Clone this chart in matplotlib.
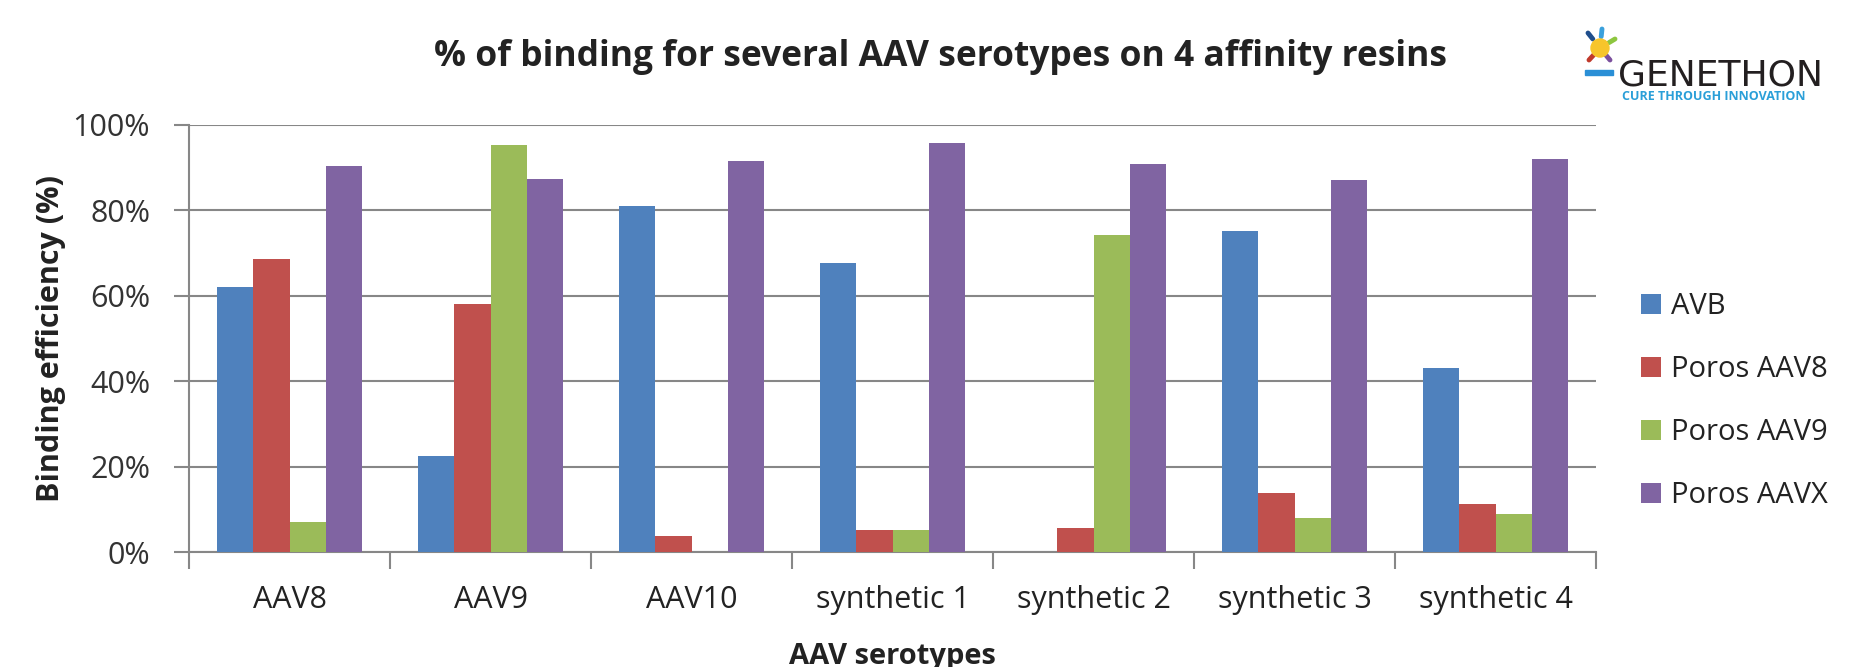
import numpy as np
import matplotlib.pyplot as plt
from matplotlib.patches import Circle, Rectangle

serotypes = ["AAV8", "AAV9", "AAV10", "synthetic 1", "synthetic 2", "synthetic 3", "synthetic 4"]
resins = ["AVB", "Poros AAV8", "Poros AAV9", "Poros AAVX"]
avb = [62.0, 22.5, 81.0, 67.6, 0.0, 75.1, 43.0]
poros_aav8 = [68.7, 58.1, 3.8, 5.1, 5.6, 13.8, 11.2]
poros_aav9 = [7.0, 95.3, 0.0, 5.1, 74.3, 8.0, 8.9]
poros_aavx = [90.4, 87.4, 91.5, 95.9, 90.9, 87.1, 92.1]
colors = ["#4F81BD", "#C0504D", "#9BBB59", "#8064A2"]

plt.rcParams['font.family'] = ['Open Sans', 'DejaVu Sans']

W, H = 1851, 667
fig = plt.figure(figsize=(W / 100, H / 100), dpi=100)
fig.patch.set_facecolor("white")

# axes box in pixels: x 189..1596, y 125..552
ax = fig.add_axes([189 / W, (H - 552) / H, (1596 - 189) / W, (552 - 125) / H])

x = np.arange(len(serotypes))
bw = 0.181
series = [avb, poros_aav8, poros_aav9, poros_aavx]
for i, (vals, c, name) in enumerate(zip(series, colors, resins)):
    ax.bar(x + (i - 1.5) * bw, vals, width=bw, color=c, label=name, zorder=3)

ax.set_xlim(-0.5, len(serotypes) - 0.5)
ax.set_ylim(0, 100)
ax.set_yticks(range(0, 101, 20))
ax.set_yticklabels([f"{v}%" for v in range(0, 101, 20)], fontsize=22, color="#333333")
ax.set_xticks(x)
ax.set_xticklabels(serotypes, fontsize=22, color="#222222")
ax.set_xticks(np.arange(-0.5, len(serotypes)), minor=True)
ax.tick_params(axis="x", which="major", length=0, pad=24)
ax.tick_params(axis="x", which="minor", length=12, width=1.5, color="#878787")
ax.tick_params(axis="y", length=11, width=1.5, color="#878787", pad=17)

ax.yaxis.grid(True, color="#878787", linewidth=1.5, zorder=0)
for s in ["top", "right"]:
    ax.spines[s].set_visible(False)
for s in ["left", "bottom"]:
    ax.spines[s].set_color("#878787")
    ax.spines[s].set_linewidth(1.5)

ax.set_ylabel("Binding efficiency (%)", fontsize=22, fontweight="bold", color="#222222", labelpad=5)
ax.set_xlabel("AAV serotypes", fontsize=21, fontweight="bold", color="#222222", labelpad=19)

fig.text(940 / W, 1 - 57 / H, "% of binding for several AAV serotypes on 4 affinity resins",
         ha="center", va="center", fontsize=25.5, fontweight="bold", color="#222222")

fig.legend(loc="center left", bbox_to_anchor=(1641 / W, 1 - 401 / H), frameon=False,
           fontsize=21, handlelength=0.68, handleheight=0.68, handletextpad=0.34,
           labelspacing=1.17, borderpad=0, borderaxespad=0, labelcolor="#222222")

# logo (approximated with text and simple shapes)
lax = fig.add_axes([0, 0, 1, 1], facecolor="none")
lax.set_xlim(0, W)
lax.set_ylim(H, 0)
lax.axis("off")
for dx, dy, c in [(-12, -15, "#1f4e8c"), (2, -19, "#3aa0dc"), (15, -9, "#8dc63f"),
                  (-11, 12, "#c0392b"), (10, 12, "#7b4f9d")]:
    lax.plot([1600 + dx * 0.6, 1600 + dx], [48 + dy * 0.6, 48 + dy], color=c, lw=3.5,
             solid_capstyle="round")
lax.add_patch(Circle((1600, 48), 9, color="#F7C52B", zorder=3))
lax.add_patch(Rectangle((1585, 70), 28, 5, color="#2a8fd6"))
lax.text(1618, 75, "GENETHON", fontsize=26, color="#231f20", ha="left", va="center",
         family="DejaVu Sans")
lax.text(1622, 97, "CURE THROUGH INNOVATION", fontsize=9, color="#2a9fd8",
         ha="left", va="center", fontweight="bold")

fig.savefig("out.png", dpi=100)
